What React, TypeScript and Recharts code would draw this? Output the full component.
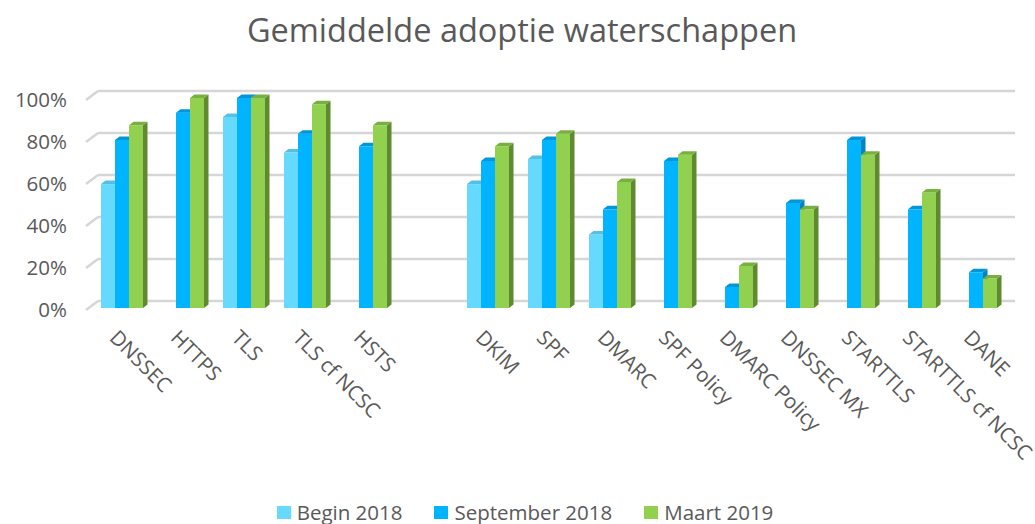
import { Bar, BarChart, CartesianGrid, Legend, XAxis, YAxis } from "recharts";

const categories = [
  "DNSSEC",
  "HTTPS",
  "TLS",
  "TLS cf NCSC",
  "HSTS",
  "",
  "DKIM",
  "SPF",
  "DMARC",
  "SPF Policy",
  "DMARC Policy",
  "DNSSEC MX",
  "STARTTLS",
  "STARTTLS cf NCSC",
  "DANE",
];

const begin2018 = [0.59, null, 0.91, 0.74, null, null, 0.59, 0.71, 0.35, null, null, null, null, null, null];
const september2018 = [0.8, 0.93, 1.0, 0.83, 0.77, null, 0.7, 0.8, 0.47, 0.7, 0.1, 0.5, 0.8, 0.47, 0.17];
const maart2019 = [0.87, 1.0, 1.0, 0.97, 0.87, null, 0.77, 0.83, 0.6, 0.73, 0.2, 0.47, 0.73, 0.55, 0.14];

const yTicks = [0, 0.2, 0.4, 0.6, 0.8, 1];

const series = [
  { key: "begin", name: "Begin 2018", fill: "#66d9ff", side: "#4aaed0", top: "#55c0e6" },
  { key: "sept", name: "September 2018", fill: "#00b4ff", side: "#0084bf", top: "#0096d8" },
  { key: "maart", name: "Maart 2019", fill: "#92d050", side: "#5f8a32", top: "#78b03f" },
];

const data = categories.map((name, i) => ({
  name,
  begin: begin2018[i],
  sept: september2018[i],
  maart: maart2019[i],
}));

const textColor = "#595959";
const font = "'Open Sans', sans-serif";

function Bar3D(props: any) {
  const { x, y, width, height, fill, side, top } = props;
  if (!height || height <= 0) return null;
  const d = 4.5;
  const dy = 3.5;
  return (
    <g>
      <rect x={x} y={y} width={width} height={height} fill={fill} />
      <polygon
        points={`${x + width},${y} ${x + width + d},${y - dy} ${x + width + d},${y + height - dy} ${x + width},${y + height}`}
        fill={side}
      />
      <polygon
        points={`${x},${y} ${x + d},${y - dy} ${x + width + d},${y - dy} ${x + width},${y}`}
        fill={top}
      />
    </g>
  );
}

function GridLine(props: any) {
  const { x1, x2, y1 } = props;
  const gy = y1 - 7;
  return (
    <g key={`g-${y1}`}>
      <line x1={x1 - 5} y1={y1 + 2} x2={x1 + 7} y2={gy} stroke="#d6d6d6" strokeWidth={2.5} />
      <line x1={x1 + 7} y1={gy} x2={x2 + 9} y2={gy} stroke="#d6d6d6" strokeWidth={2.5} />
    </g>
  );
}

function XTick(props: any) {
  const { x, y, payload } = props;
  if (!payload.value) return null;
  const ax = x - 8;
  const ay = y + 18;
  return (
    <text
      x={ax}
      y={ay}
      dy="0.35em"
      transform={`rotate(45, ${ax}, ${ay})`}
      textAnchor="start"
      fill={textColor}
      fontSize={20.5}
      fontFamily={font}
    >
      {payload.value}
    </text>
  );
}

function LegendContent() {
  return (
    <div
      style={{
        height: 24,
        display: "flex",
        justifyContent: "center",
        alignItems: "center",
        fontFamily: font,
        fontSize: 20.5,
        lineHeight: "24px",
        color: textColor,
        paddingLeft: 44,
      }}
    >
      {series.map((s) => (
        <div key={s.key} style={{ display: "flex", alignItems: "center", margin: "0 16px" }}>
          <span style={{ width: 14, height: 13, background: s.fill, marginRight: 6, display: "inline-block" }} />
          <span>{s.name}</span>
        </div>
      ))}
    </div>
  );
}

export default function App() {
  return (
    <div style={{ position: "absolute", left: 0, top: 0, width: 1035, height: 524, background: "#fff" }}>
      <div
        style={{
          position: "absolute",
          left: 0,
          top: 7,
          width: 1044,
          textAlign: "center",
          fontFamily: font,
          fontSize: 32.5,
          color: textColor,
          lineHeight: "46px",
        }}
      >
        Gemiddelde adoptie waterschappen
      </div>
      <BarChart
        width={1035}
        height={524}
        data={data}
        margin={{ top: 98, right: 29, left: 0, bottom: 0 }}
        barGap={0}
        barCategoryGap={10}
      >
        <CartesianGrid vertical={false} horizontal={(p: any) => <GridLine {...p} />} />
        <XAxis
          dataKey="name"
          interval={0}
          axisLine={false}
          tickLine={false}
          height={192}
          tick={<XTick />}
        />
        <YAxis
          domain={[0, 1]}
          ticks={yTicks}
          width={91}
          axisLine={false}
          tickLine={false}
          tickMargin={18}
          tickFormatter={(v: number) => `${Math.round(v * 100)}%`}
          tick={{ fill: textColor, fontSize: 20.5, fontFamily: font, dy: 2 }}
        />
        <Legend verticalAlign="bottom" height={24} content={<LegendContent />} />
        {series.map((s) => (
          <Bar
            key={s.key}
            dataKey={s.key}
            name={s.name}
            fill={s.fill}
            isAnimationActive={false}
            shape={(p: any) => <Bar3D {...p} fill={s.fill} side={s.side} top={s.top} />}
          />
        ))}
      </BarChart>
    </div>
  );
}
